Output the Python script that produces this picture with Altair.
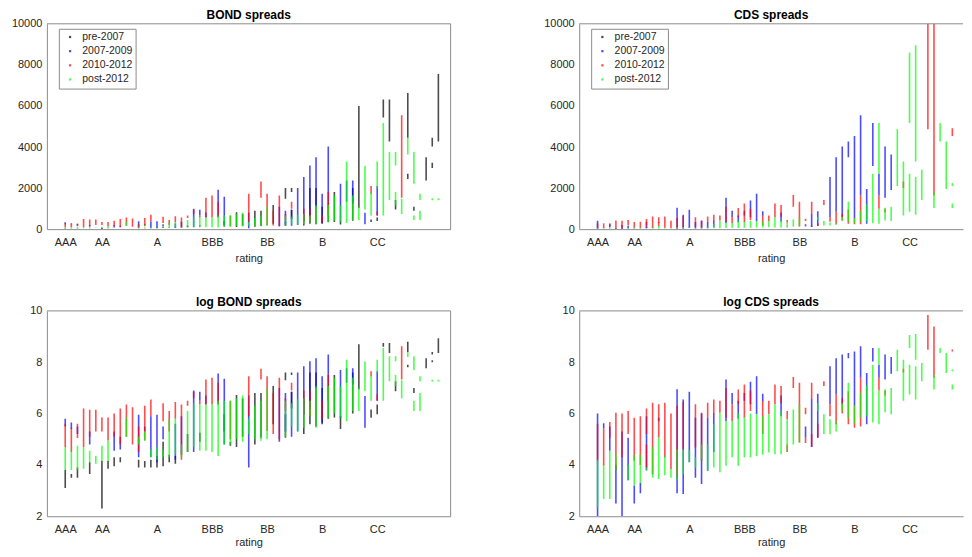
import altair as alt
import pandas as pd
import numpy as np

PERIODS = ["pre-2007", "2007-2009", "2010-2012", "post-2012"]
COLORS = ["#000000", "#0000ff", "#ff0000", "#00ff00"]

rating_ticks = [1, 3, 6, 9, 12, 15, 18]
rating_labels = ["AAA", "AA", "A", "BBB", "BB", "B", "CC"]

# strips: (notch index k -> rating 1 + k/3, low log-spread, high log-spread)
bond_pre2007 = [(0,3.1,3.8),(1,3.5,3.65),(2,3.5,3.9),(4,3.65,4.1),(6,2.3,4.15),(7,3.85,4.15),(8,3.95,4.3),
    (9,4.1,4.3),(12,3.9,4.2),(13,3.9,4.15),(14,3.9,4.2),(15,3.9,4.35),(16,3.95,4.9),(17,4.1,4.4),(18,4.05,4.35),
    (20,4.5,5.2),(22,4.9,5.25),(26,5.3,5.97),(27,4.75,4.9),(28,4.7,6.72),(29,5.1,6.6),(31,4.8,6.8),(32,5.06,6.8),
    (34,5.58,7.07),(36,5.06,5.97),(36,7.3,7.6),(37,6.2,6.85),(37,7.5,7.6),(39,5.2,6.6),(40,5.58,7.6),(41,5.5,7.6),
    (42,5.58,7.0),(43,5.8,6.5),(44,5.85,7.5),(45,5.4,5.9),(47,6.0,7.6),(48,6.94,8.7),(50,5.84,6.16),(51,5.97,6.35),
    (52,8.6,8.75),(53,8.36,8.75),(54,6.87,7.26),(56,8.4,8.8),(56,7.8,7.9),(57,6.8,7.0),(59,7.77,8.16),(60,8.3,8.4),
    (60,8.0,8.08),(61,8.36,8.93)]
bond_2007_2009 = [(0,5.5,5.8),(1,5.4,5.65),(2,5.2,5.5),(4,4.8,5.3),(8,4.55,5.3),(9,4.6,5.1),(12,4.3,5.95),(13,5.3,5.5),
    (14,4.3,5.9),(15,4.1,5.95),(16,5.0,5.5),(18,4.2,5.6),(19,4.4,5.9),(21,4.5,6.9),(22,6.5,6.85),(23,6.35,6.7),
    (25,6.35,7.56),(26,4.8,7.36),(30,3.9,6.7),(35,4.9,7.0),(36,5.3,6.8),(37,5.1,6.85),(38,5.3,7.6),(39,5.96,7.84),
    (40,6.2,8.04),(41,7.0,8.16),(42,5.64,7.45),(43,6.5,8.3),(45,5.84,7.7),(46,7.2,7.77),(47,7.13,7.77),(49,5.45,6.68),
    (51,6.5,7.65)]
bond_2010_2012 = [(0,4.7,5.6),(1,4.5,5.45),(2,5.05,5.6),(3,4.7,6.2),(4,5.1,6.15),(5,5.3,6.15),(6,5.3,5.85),(7,4.95,5.85),
    (8,5.1,6.0),(9,4.8,6.2),(10,5.1,6.35),(11,4.8,6.25),(12,4.5,5.5),(13,4.95,6.3),(14,5.9,6.55),(16,5.7,6.4),
    (17,5.3,6.1),(18,5.8,6.45),(19,4.2,6.35),(20,6.3,6.5),(21,6.6,6.85),(22,6.35,6.5),(23,6.35,7.33),(24,6.35,7.4),
    (25,6.4,7.2),(27,5.0,6.5),(30,5.9,7.45),(32,7.33,7.75),(33,5.32,7.45),(34,5.2,6.8),(35,5.0,7.4),(36,6.1,6.6),
    (37,6.9,7.2),(39,5.96,6.9),(40,5.9,6.9),(42,5.8,6.5),(43,6.5,7.5),(50,7.45,7.65),(51,6.5,6.75),(55,7.33,8.62)]
bond_post2012 = [(0,3.8,4.7),(1,3.8,4.55),(2,3.8,4.75),(3,3.85,4.7),(4,4.1,4.55),(5,4.05,4.35),(6,4.15,4.75),
    (7,4.15,4.95),(10,5.1,5.85),(12,4.8,5.1),(13,4.95,5.3),(14,4.3,4.6),(15,4.2,4.7),(16,4.3,4.6),(17,4.3,5.8),
    (18,4.4,5.8),(19,4.3,4.8),(20,4.5,6.1),(21,4.7,6.4),(22,4.55,6.35),(23,4.55,6.35),(24,4.5,6.35),(25,4.35,6.5),
    (26,4.8,6.5),(27,4.8,6.5),(28,5.0,6.6),(29,4.9,6.7),(30,5.2,5.8),(31,5.0,6.3),(32,4.94,6.5),(33,5.0,7.0),
    (36,5.1,6.5),(37,5.5,6.4),(38,5.3,6.56),(39,5.45,6.6),(40,5.9,6.5),(41,5.45,7.06),(43,5.84,7.07),(44,6.0,7.4),
    (45,5.84,7.06),(46,5.7,8.1),(47,6.1,7.4),(48,6.1,7.0),(49,6.87,8.03),(50,6.5,7.5),(51,7.6,8.1),(52,6.5,8.55),
    (53,7.26,8.23),(54,8.04,8.23),(54,7.06,7.5),(55,6.6,7.3),(56,8.2,8.4),(57,7.7,8.23),(57,6.1,6.5),(58,7.26,7.45),
    (58,6.1,6.8),(60,7.25,7.32),(61,7.25,7.32)]

cds_pre2007 = []
cds_2007_2009 = [(0,2.0,6.0),(1,5.43,5.62),(2,4.55,5.5),(3,2.5,4.0),(4,2.0,5.3),(5,3.4,5.06),(6,2.5,3.2),(7,2.9,3.3),
    (8,3.78,5.9),(10,5.7,5.84),(13,2.9,6.95),(14,2.87,6.55),(15,4.1,6.85),(16,3.5,5.84),(17,3.26,6.0),(18,3.77,5.84),
    (19,4.5,6.0),(21,5.7,7.33),(22,6.36,6.8),(23,5.8,6.5),(24,6.5,6.8),(25,6.36,7.24),(26,5.97,7.45),(27,6.48,6.77),
    (30,5.9,6.7),(34,5.06,5.5),(35,4.7,6.6),(36,5.06,6.77),(38,6.36,7.84),(39,6.74,8.16),(40,6.36,8.3),(41,8.16,8.36),
    (42,6.3,8.42),(43,7.4,8.62),(44,5.58,7.58),(45,8.03,8.55),(46,7.4,7.9),(47,7.33,8.3),(48,7.55,8.2)]
cds_2010_2012 = [(0,4.16,5.6),(1,3.97,5.43),(2,5.06,5.67),(3,3.78,6.03),(4,4.3,6.0),(5,5.2,6.1),(6,4.16,5.84),
    (7,4.0,5.9),(8,5.2,6.2),(8,3.9,4.8),(9,3.64,6.42),(10,5.06,6.36),(11,4.29,6.42),(12,3.84,6.0),(13,3.5,6.3),
    (14,4.6,6.45),(16,4.68,6.36),(17,4.16,6.03),(18,5.84,6.42),(19,5.97,6.55),(20,6.03,6.5),(21,5.84,7.0),
    (22,5.7,6.36),(23,6.36,6.94),(24,5.84,7.13),(25,6.1,6.9),(27,5.2,6.5),(28,5.97,6.5),(29,6.36,7.13),(30,6.4,7.07),
    (31,5.78,6.1),(31,4.5,4.8),(32,7.0,7.42),(33,4.87,7.2),(34,5.97,6.23),(34,4.85,5.06),(35,6.6,7.2),(35,4.7,5.2),
    (36,5.06,5.6),(37,7.07,7.26),(38,5.9,6.36),(39,5.58,6.74),(40,6.0,6.6),(41,5.58,6.87),(42,5.45,6.3),(43,5.5,7.4),
    (46,6.9,7.4),(47,6.7,6.9),(50,7.6,7.75),(54,8.49,9.84),(55,7.4,9.39),(58,8.42,8.5)]
cds_post2012 = [(0,2.35,4.2),(1,2.67,3.97),(2,2.67,4.55),(3,3.78,4.4),(5,3.4,4.0),(6,3.2,4.4),(7,3.3,4.4),(8,3.8,3.9),
    (9,3.5,4.7),(10,3.45,5.06),(11,3.6,4.35),(12,3.5,3.84),(13,3.4,4.6),(14,3.64,4.6),(15,4.1,4.6),(16,3.9,4.3),
    (17,4.2,4.8),(18,3.77,4.8),(19,3.9,5.58),(20,3.71,6.03),(21,3.97,5.7),(22,4.3,5.7),(23,3.97,6.0),(24,4.3,5.84),
    (25,4.29,6.0),(26,4.35,5.97),(27,4.4,5.9),(28,4.48,5.97),(29,4.42,6.36),(30,4.42,6.1),(31,4.55,5.78),(32,4.8,6.16),
    (33,4.87,6.36),(36,6.1,6.4),(37,5.19,5.97),(38,5.19,5.78),(39,5.3,5.7),(40,6.1,6.4),(41,5.84,7.2),(42,5.6,6.3),
    (43,5.84,6.8),(44,5.9,7.1),(45,5.65,7.9),(46,5.58,6.9),(46,7.9,8.55),(47,6.05,6.95),(48,5.97,7.0),(49,7.65,8.49),
    (50,6.5,8.1),(51,8.55,9.06),(51,6.74,7.9),(52,8.1,9.1),(52,6.55,7.84),(53,7.26,7.97),(55,6.94,7.5),(56,8.36,8.55),
    (57,7.58,8.36),(58,7.65,7.72),(58,6.94,7.13),(60,6.97,7.03),(61,6.93,6.99)]


def frame(lists):
    rows = []
    for i, (period, segs) in enumerate(zip(PERIODS, lists)):
        for k, lo, hi in segs:
            rows.append({"rating": 1 + k / 3, "period": period, "ord": i, "lo": lo, "hi": hi})
    df = pd.DataFrame(rows)
    df["lo_lin"] = np.exp(df["lo"])
    df["hi_lin"] = np.exp(df["hi"])
    return df


bond = frame([bond_pre2007, bond_2007_2009, bond_2010_2012, bond_post2012])
cds = frame([cds_pre2007, cds_2007_2009, cds_2010_2012, cds_post2012])

FONT = "Liberation Sans"
AXC = "#8c8c8c"
TXT = "#262626"

label_expr = " : ".join(
    f"datum.value == {v} ? '{l}'" for v, l in zip(rating_ticks, rating_labels)
) + " : ''"

PH = 206


def panel(df, title, lo, hi, ydom, yvals, width, xmax, with_legend, left_side, tpad):
    if with_legend:
        leg = alt.Legend(orient="none", legendX=12, legendY=5, title=None, fillColor="white",
                         strokeColor=AXC, padding=3, symbolType="square", symbolSize=5,
                         symbolOffset=3, labelOffset=7, rowPadding=3.2, labelFontSize=10.5,
                         labelFont=FONT, labelColor=TXT, symbolStrokeWidth=0)
    else:
        leg = None
    bars = alt.Chart(df).mark_bar(width=1.6, opacity=0.7, clip=True).encode(
        x=alt.X("rating:Q", scale=alt.Scale(domain=[0, xmax], nice=False, zero=False, padding=0),
                axis=alt.Axis(values=rating_ticks, labelExpr=label_expr, title="rating", grid=False,
                              ticks=False, labelPadding=7, titlePadding=tpad, labelFontSize=11,
                              titleFontSize=11, titleFontWeight="normal", labelFont=FONT, titleFont=FONT,
                              labelColor=TXT, titleColor=TXT, domainColor=AXC, labelFlush=False)),
        y=alt.Y(f"{lo}:Q", scale=alt.Scale(domain=ydom, nice=False, zero=False, padding=0),
                axis=alt.Axis(values=yvals, format="d", title=None, grid=False, ticks=False,
                              labelPadding=5, labelFontSize=11, labelFont=FONT, labelColor=TXT,
                              domainColor=AXC, minExtent=38, maxExtent=38, labelFlush=False)),
        y2=f"{hi}:Q",
        color=alt.Color("period:N", scale=alt.Scale(domain=PERIODS, range=COLORS), legend=leg),
        order=alt.Order("ord:Q"),
    )
    one = pd.DataFrame({"a": [0]})
    top = alt.Chart(one).mark_rule(color=AXC, strokeWidth=1).encode(y=alt.value(0))
    layers = [bars, top]
    if left_side:
        right = alt.Chart(one).mark_rule(color=AXC, strokeWidth=1).encode(x=alt.value(width))
        layers.append(right)
    return alt.layer(*layers).properties(
        width=width, height=PH,
        title=alt.TitleParams(title, fontSize=12, fontWeight="bold", font=FONT, color="#000000", offset=-4),
    )


LW = 405
RW = 385
rating_unit = LW / 22.0
xmax_r = RW / rating_unit

p1 = panel(bond, "BOND spreads", "lo_lin", "hi_lin", [0, 10000], [0, 2000, 4000, 6000, 8000, 10000], LW, 22, True, True, 5)
p2 = panel(cds, "CDS spreads", "lo_lin", "hi_lin", [0, 10000], [0, 2000, 4000, 6000, 8000, 10000], RW, xmax_r, True, False, 5)
p3 = panel(bond, "log BOND spreads", "lo", "hi", [2, 10], [2, 4, 6, 8, 10], LW, 22, False, True, 2)
p4 = panel(cds, "log CDS spreads", "lo", "hi", [2, 10], [2, 4, 6, 8, 10], RW, xmax_r, False, False, 2)

row1 = alt.hconcat(p1, p2, spacing=89).resolve_scale(color="independent")
row2 = alt.hconcat(p3, p4, spacing=89).resolve_scale(color="independent")
chart = alt.vconcat(row1, row2, spacing=31).resolve_scale(color="independent").properties(
    padding={"left": 0, "top": -1, "right": 0, "bottom": -1}, background="white"
).configure_view(stroke="transparent")

chart.save("out.html", embed_options={"renderer": "svg", "actions": False})
